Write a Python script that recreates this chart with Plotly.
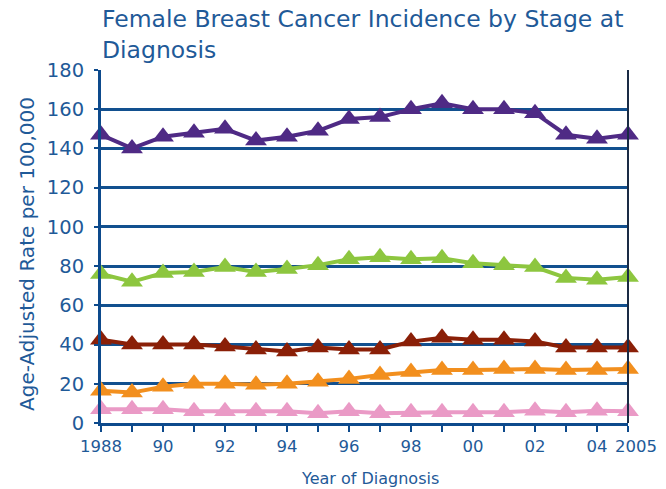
import plotly.graph_objects as go

years = list(range(1988, 2006))
stage_a = [147, 140, 146, 148, 150, 144, 146, 149, 155, 156, 160, 163, 160, 160, 158, 147, 145, 147]
stage_b = [76, 72, 76.5, 77, 79.5, 77, 78.5, 80.5, 83.5, 84.5, 83.5, 84, 81.5, 80.5, 79.5, 74, 73, 74.5]
stage_c = [42.5, 40, 40, 40, 39, 37.5, 36.5, 38.5, 37.5, 37.5, 41.5, 43.5, 42.5, 42.5, 41.5, 38.5, 38.5, 38.5]
stage_d = [16.5, 15.5, 18.5, 20, 20, 19.5, 20, 21, 22.5, 24.5, 26, 27, 27, 27.5, 27.5, 27, 27, 27.5]
stage_e = [7, 7, 7, 6, 6, 6, 6, 5, 6, 5, 5.5, 5.5, 5.5, 5.5, 6.2, 5.5, 6.2, 6]

series = [
    (stage_a, "#4F2A85"),
    (stage_b, "#8DC63F"),
    (stage_c, "#8A1F07"),
    (stage_d, "#F28F1E"),
    (stage_e, "#EA9AC6"),
]

tick_vals = [1988, 1990, 1992, 1994, 1996, 1998, 2000, 2002, 2004]
tick_text = ["1988", "90", "92", "94", "96", "98", "00", "02", "04"]
end_tick_val = 2005
end_tick_text = "2005"

title_text = "Female Breast Cancer Incidence by Stage at<br>Diagnosis"
x_title = "Year of Diagnosis"
y_title = "Age-Adjusted Rate per 100,000"

text_color = "#1F5A98"
axis_color = "#0D4A8C"
font_family = "DejaVu Sans"

fig = go.Figure()
for vals, col in series:
    fig.add_trace(go.Scatter(
        x=years, y=vals, mode="lines+markers",
        line=dict(color=col, width=4),
        marker=dict(symbol="triangle-up", size=19, color=col),
        cliponaxis=False, showlegend=False,
    ))

fig.add_shape(type="line", xref="paper", yref="paper", x0=1, x1=1, y0=0, y1=1,
              line=dict(color="#1A2B45", width=2))

fig.add_annotation(text=title_text, xref="paper", yref="paper", x=-0.002, y=1.19,
                   xanchor="left", yanchor="top", align="left", showarrow=False,
                   font=dict(family=font_family, size=23.5, color=text_color))
fig.add_annotation(text=x_title, xref="paper", yref="paper", x=0.51, y=-0.156,
                   xanchor="center", yanchor="middle", showarrow=False,
                   font=dict(family=font_family, size=16, color=text_color))
fig.add_annotation(text=y_title, xref="paper", yref="paper", x=-0.1404, y=0.479,
                   xanchor="center", yanchor="middle", textangle=-90, showarrow=False,
                   font=dict(family=font_family, size=20, color=text_color))
fig.add_annotation(text=end_tick_text, xref="x", yref="paper", x=end_tick_val, y=0,
                   xanchor="center", yanchor="top", xshift=8, yshift=-12, showarrow=False,
                   font=dict(family=font_family, size=16.5, color=text_color))

fig.update_layout(
    width=666, height=489,
    margin=dict(l=101, r=38, t=70, b=66),
    plot_bgcolor="white", paper_bgcolor="white",
    font=dict(family=font_family, color=text_color, size=16),
)
fig.update_xaxes(
    range=[1988, 2005], tickvals=tick_vals, ticktext=tick_text, tickangle=0,
    automargin=False,
    ticks="outside", ticklen=6, tickwidth=2, tickcolor=axis_color,
    minor=dict(dtick=1, tick0=1988, ticks="outside", ticklen=6, tickwidth=2, tickcolor=axis_color, showgrid=False),
    showgrid=False, showline=True, linecolor=axis_color, linewidth=3,
    tickfont=dict(size=16.5, color=text_color), ticklabelstandoff=0,
    zeroline=False,
)
fig.update_yaxes(
    range=[0, 180], tick0=0, dtick=20, automargin=False,
    ticks="outside", ticklen=4, tickwidth=2, tickcolor=axis_color,
    showgrid=True, gridcolor="#12508F", gridwidth=3,
    showline=True, linecolor=axis_color, linewidth=3,
    tickfont=dict(size=19.5, color=text_color), ticklabelstandoff=6,
    zeroline=False,
)

fig.write_html("out.html")
